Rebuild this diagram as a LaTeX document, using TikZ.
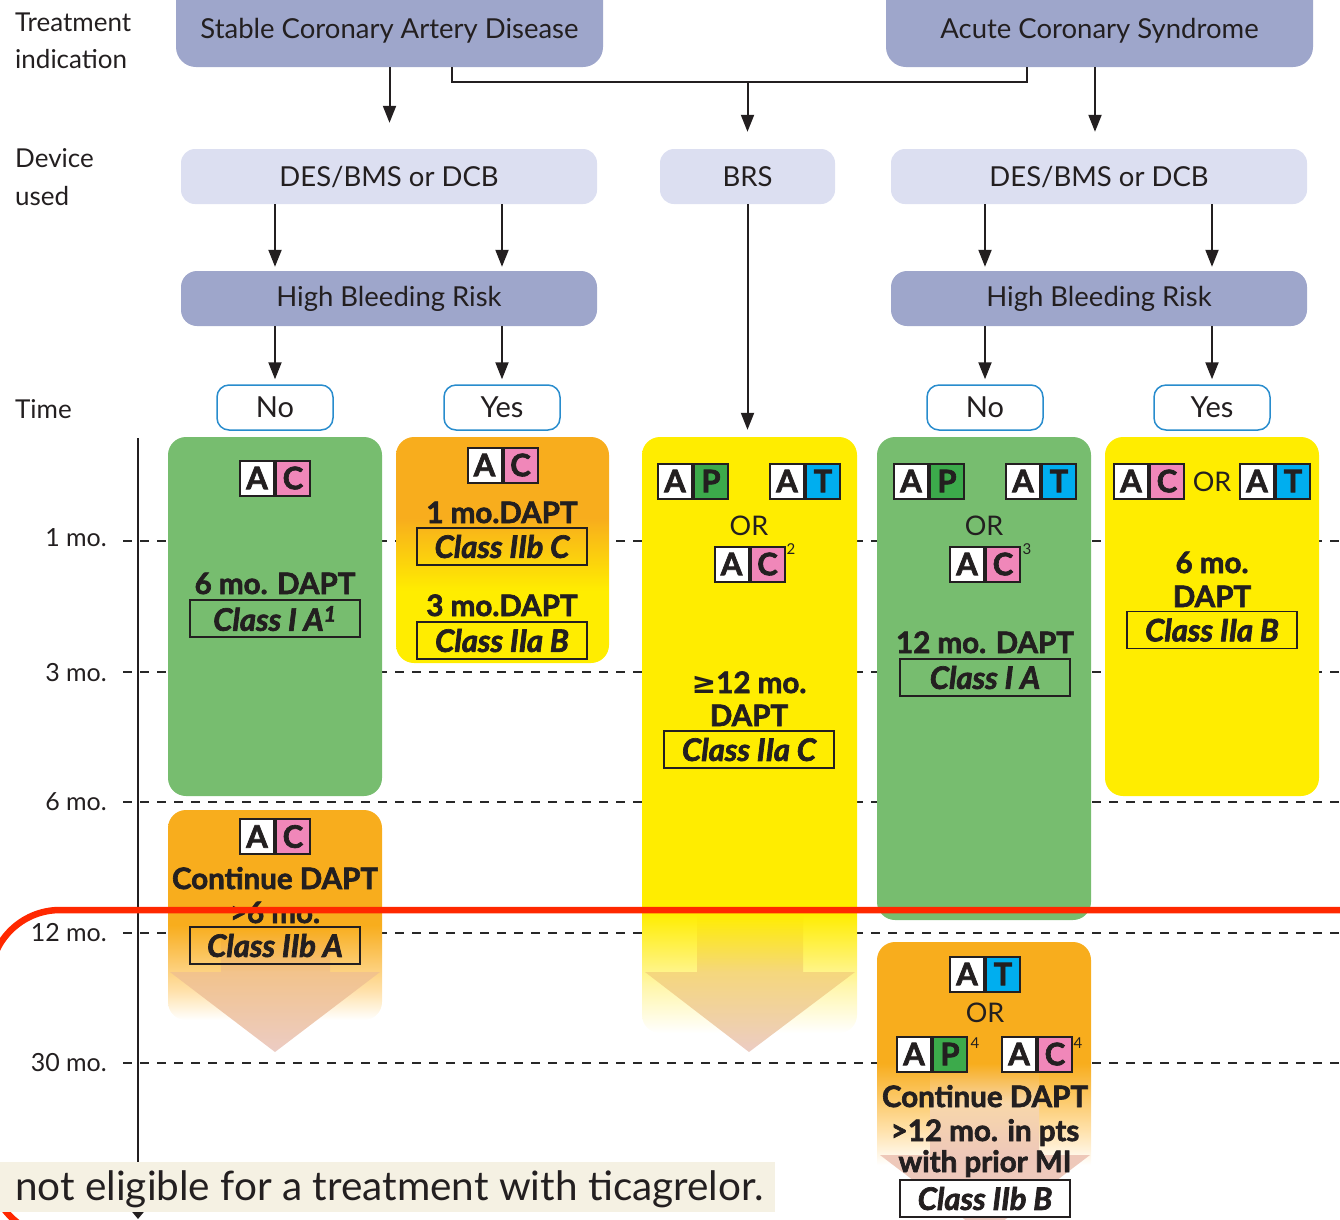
\documentclass[tikz,border=0pt]{standalone}
\usepackage{fontspec}
\setmainfont{Lato}[BoldFeatures={FakeBold=2.2}, BoldItalicFeatures={FakeBold=2.2}]
\newfontfamily\symfont{DejaVu Sans}
\usetikzlibrary{arrows.meta,calc}
\definecolor{txt}{RGB}{35,31,32}
\definecolor{hdark}{RGB}{158,166,203}
\definecolor{hlight}{RGB}{220,223,241}
\definecolor{bgreen}{RGB}{119,189,111}
\definecolor{byellow}{RGB}{255,237,0}
\definecolor{bpale}{RGB}{255,246,170}
\definecolor{borange}{RGB}{248,173,29}
\definecolor{opale}{RGB}{255,225,170}
\definecolor{nyblue}{RGB}{40,140,205}
\definecolor{cpink}{RGB}{240,135,185}
\definecolor{pgreen}{RGB}{60,170,75}
\definecolor{tcyan}{RGB}{0,174,239}
\definecolor{redl}{RGB}{255,40,0}
\definecolor{pinkish}{RGB}{236,204,196}
\definecolor{footbg}{RGB}{245,241,227}
\definecolor{dashc}{RGB}{40,40,40}
\definecolor{aL}{RGB}{242,195,140}
\definecolor{aB}{RGB}{245,215,125}
\definecolor{aR}{RGB}{238,200,185}
\definecolor{aR2}{RGB}{248,215,170}
\pgfdeclareverticalshading{oy}{100bp}{color(0bp)=(byellow); color(41bp)=(byellow); color(57bp)=(borange); color(100bp)=(borange)}
\pgfdeclareverticalshading{brsfade}{100bp}{color(0bp)=(white); color(25bp)=(white); color(29bp)=(bpale); color(35bp)=(byellow); color(100bp)=(byellow)}
\pgfdeclareverticalshading{ofadeA}{100bp}{color(0bp)=(white); color(25bp)=(white); color(32bp)=(opale); color(47.6bp)=(borange); color(100bp)=(borange)}
\pgfdeclareverticalshading{ofadeB}{100bp}{color(0bp)=(white); color(37.6bp)=(white); color(43.5bp)=(opale); color(54.7bp)=(borange); color(100bp)=(borange)}
\pgfdeclareverticalshading{arrL}{100bp}{color(0bp)=(pinkish); color(25bp)=(pinkish); color(43.2bp)=(aL); color(53bp)=(borange); color(100bp)=(borange)}
\pgfdeclareverticalshading{arrB}{100bp}{color(0bp)=(pinkish); color(25bp)=(pinkish); color(43bp)=(aB); color(56bp)=(byellow); color(100bp)=(byellow)}
\pgfdeclareverticalshading{arrR}{100bp}{color(0bp)=(pinkish); color(25bp)=(pinkish); color(43.2bp)=(aR); color(55bp)=(aR2); color(64bp)=(borange); color(100bp)=(borange)}
\tikzset{
 line/.style={draw=txt, line width=2pt},
 arr/.style={line, -{Triangle[length=17pt,width=13pt]}},
 hdr/.style={fill=hdark, rounded corners=20, inner sep=0, text=txt, font=\fontsize{27.5}{30}\selectfont},
 dev/.style={fill=hlight, rounded corners=14, minimum height=55, inner sep=0, text=txt, font=\fontsize{27.5}{30}\selectfont},
 ny/.style={fill=white, draw=nyblue, line width=1.5pt, rounded corners=12, minimum width=116, minimum height=45, inner sep=0, text=txt, font=\fontsize{29}{30}\selectfont},
 tbox/.style={rounded corners=18, inner sep=0, minimum width=214},
 bt/.style={text=txt, font=\fontsize{29.5}{30}\selectfont\bfseries, inner sep=0, anchor=base},
 rt/.style={text=txt, font=\fontsize{27}{30}\selectfont, inner sep=0, anchor=base},
 cls/.style={draw=txt, line width=1.3pt, minimum width=170, minimum height=37, inner sep=0, text=txt, font=\fontsize{31}{30}\selectfont\bfseries\itshape},
 bsq/.style={draw=txt, line width=2pt, minimum width=34, minimum height=35, inner sep=0, text=txt, font=\fontsize{31}{34}\selectfont\bfseries},
 lbl/.style={text=txt, font=\fontsize{26}{28}\selectfont, inner sep=0, anchor=base west},
 tlab/.style={text=txt, font=\fontsize{25}{30}\selectfont, inner sep=0, anchor=east},
 supr/.style={text=txt, font=\fontsize{15}{18}\selectfont, inner sep=0},
 tdash/.style={draw=dashc, line width=2pt, dash pattern=on 9pt off 8pt},
}
\newcommand\mybadge[5]{%
 \node[bsq, fill=white, anchor=east] (#1a) at (#2,#3) {A};
 \node[bsq, fill=#4, anchor=west] (#1b) at (#2,#3) {#5};}
\begin{document}
\begin{tikzpicture}[x=1pt,y=-1pt]
\useasboundingbox (0,0) rectangle (1340,1219);
% time grid
\foreach \yy in {541,672,802,933,1063} \draw[tdash] (123,\yy) -- (1340,\yy);
\draw[line, -{Triangle[length=10pt,width=16pt]}] (138,438) -- (138,1219);
% left labels
\node[lbl] (l1) at (15,31) {Treatment};
\node[lbl] (l2) at (15,68) {indication};
\node[lbl] (l3) at (15,167) {Device};
\node[lbl] (l4) at (15,205) {used};
\node[lbl] (l5) at (15,418) {Time};
\node[tlab] (t1) at (107,538) {1 mo.};
\node[tlab] (t3) at (107,673) {3 mo.};
\node[tlab] (t6) at (107,802) {6 mo.};
\node[tlab] (t12) at (107,933) {12 mo.};
\node[tlab] (t30) at (107,1063) {30 mo.};
% top
\node[hdr, minimum width=427, minimum height=97] (scad) at (389.5,18.5) {};
\node[text=txt, font=\fontsize{27.5}{30}\selectfont] (scadt) at (389.5,31) {Stable Coronary Artery Disease};
\node[hdr, minimum width=427, minimum height=97] (acs) at (1099.5,18.5) {};
\node[text=txt, font=\fontsize{27.5}{30}\selectfont] (acst) at (1099.5,31) {Acute Coronary Syndrome};
\node[dev, minimum width=416] (des1) at (389,176.5) {DES/BMS or DCB};
\node[dev, minimum width=175] (brs) at (747.5,176.5) {BRS};
\node[dev, minimum width=416] (des2) at (1099,176.5) {DES/BMS or DCB};
\node[hdr, minimum width=416, minimum height=55, rounded corners=16] (hbr1) at (389,298.5) {High Bleeding Risk};
\node[hdr, minimum width=416, minimum height=55, rounded corners=16] (hbr2) at (1099,298.5) {High Bleeding Risk};
\node[ny] (no1) at (275,407.5) {No};
\node[ny] (yes1) at (502,407.5) {Yes};
\node[ny] (no2) at (985,407.5) {No};
\node[ny] (yes2) at (1212,407.5) {Yes};
% connectors
\coordinate (jl) at (452,82);
\coordinate (jr) at (1027,82);
\draw[arr, shorten >=26pt] (scad.south) -- (scad.south |- des1.north);
\draw[line] (scad.south -| jl) -- (jl) -- (jr) -- (acs.south -| jr);
\draw[arr, shorten >=17pt] (jl -| brs) -- (brs.north);
\draw[arr, shorten >=17pt] (acs.south -| 1095,0) -- (des2.north -| 1095,0);
\draw[arr, shorten >=4pt] (des1.south -| no1) -- (hbr1.north -| no1);
\draw[arr, shorten >=4pt] (des1.south -| yes1) -- (hbr1.north -| yes1);
\draw[arr, shorten >=4pt] (des2.south -| no2) -- (hbr2.north -| no2);
\draw[arr, shorten >=4pt] (des2.south -| yes2) -- (hbr2.north -| yes2);
\draw[arr, shorten >=5pt] (hbr1.south -| no1) -- (no1.north);
\draw[arr, shorten >=5pt] (hbr1.south -| yes1) -- (yes1.north);
\draw[arr, shorten >=5pt] (hbr2.south -| no2) -- (no2.north);
\draw[arr, shorten >=5pt] (hbr2.south -| yes2) -- (yes2.north);
% time boxes
\node[tbox, fill=bgreen, minimum height=359] (g1) at (275,616.5) {};
\node[tbox, shade, shading=oy, minimum width=213, minimum height=226] (oy1) at (502.5,550) {};
\node[tbox, shade, shading=brsfade, minimum width=215, minimum height=596] (brsbox) at (749.5,735) {};
\node[tbox, fill=bgreen, minimum height=483] (g2) at (984,678.5) {};
\node[tbox, fill=byellow, minimum height=359] (y2) at (1212,616.5) {};
\node[tbox, shade, shading=ofadeA, minimum height=210] (o2) at (275,915) {};
\node[tbox, shade, shading=ofadeB, minimum height=298] (o3) at (984,1091) {};
\draw[arr, shorten >=7pt] (brs.south) -- (brs.south |- brsbox.north);
% big arrows
\shade[shading=arrL] (221,832)--(330,832)--(330,972)--(380,972)--(275,1052)--(170,972)--(221,972)--cycle;
\shade[shading=arrB] (697,830)--(803,830)--(803,972)--(855,972)--(749,1052)--(645,972)--(697,972)--cycle;
\shade[shading=arrR] (930,1015)--(1039,1015)--(1039,1155)--(1090,1155)--(985,1235)--(880,1155)--(930,1155)--cycle;
% g1
\mybadge{bg1}{275}{478}{cpink}{C}
\node[bt] (g1t) at (275,594) {6 mo. DAPT};
\node[cls] (c1) at (275,618.5) {Class I A\textsuperscript{1}};
% oy1
\mybadge{boy}{502.5}{465}{cpink}{C}
\node[bt] (oyt1) at (502,523) {1 mo.DAPT};
\node[cls] (c2) at (502,546.5) {Class IIb C};
\node[bt] (oyt2) at (502,616) {3 mo.DAPT};
\node[cls] (c3) at (502,640.5) {Class IIa B};
% brs box
\mybadge{bb1}{693}{481}{pgreen}{P}
\mybadge{bb2}{805}{481}{tcyan}{T}
\node[rt] (bor) at (749,535) {OR};
\mybadge{bb3}{749.5}{564}{cpink}{C}
\node[supr] (s2) at (791,549) {2};
\node[bt] (bbt1) at (749,693) {{\symfont\bfseries ≥}12 mo.};
\node[bt] (bbt2) at (749,726) {DAPT};
\node[cls] (c4) at (749,749.5) {Class IIa C};
% g2
\mybadge{bg2a}{929}{481}{pgreen}{P}
\mybadge{bg2b}{1041}{481}{tcyan}{T}
\node[rt] (gor) at (984,535) {OR};
\mybadge{bg2c}{985}{564}{cpink}{C}
\node[supr] (s3) at (1027,549) {3};
\node[bt] (g2t) at (985,653) {12 mo. DAPT};
\node[cls] (c5) at (985,677.5) {Class I A};
% y2
\mybadge{by1}{1149}{481}{cpink}{C}
\node[rt] (yor) at (1212,491) {OR};
\mybadge{by2}{1275}{481}{tcyan}{T}
\node[bt] (y2t1) at (1212,573) {6 mo.};
\node[bt] (y2t2) at (1212,607) {DAPT};
\node[cls] (c6) at (1212,630) {Class IIa B};
% o2
\mybadge{bo2}{275}{836.5}{cpink}{C}
\node[bt] (o2t1) at (275,889) {Continue DAPT};
\node[bt] (o2t2) at (275,923) {>6 mo.};
\node[cls] (c7) at (275,945.5) {Class IIb A};
% o3
\mybadge{bo3a}{985}{974}{tcyan}{T}
\node[rt] (oor) at (985,1022) {OR};
\mybadge{bo3b}{932}{1054}{pgreen}{P}
\node[supr] (s4a) at (975,1043) {4};
\mybadge{bo3c}{1037}{1054}{cpink}{C}
\node[supr] (s4b) at (1078,1043) {4};
\node[bt] (o3t1) at (985,1107) {Continue DAPT};
\node[bt] (o3t2) at (985,1141) {>12 mo. in pts};
\node[bt] (o3t3) at (985,1172) {with prior MI};
\node[cls, fill=white] (c8) at (985,1198.5) {Class IIb B};
% red overlay line
\draw[redl, line width=6.5pt, rounded corners=70pt] (1400,910) -- (-10,910) -- (-10,1237) -- (1400,1237);
% footnote bar
\node[fill=footbg, minimum width=780, minimum height=50, inner sep=0, anchor=north west] (footbar) at (-5,1162) {};
\node[anchor=base west, inner sep=0, text=txt, font=\fontsize{40.5}{44}\selectfont] (foot) at (15,1200) {not eligible for a treatment with ticagrelor.};
\end{tikzpicture}
\end{document}
